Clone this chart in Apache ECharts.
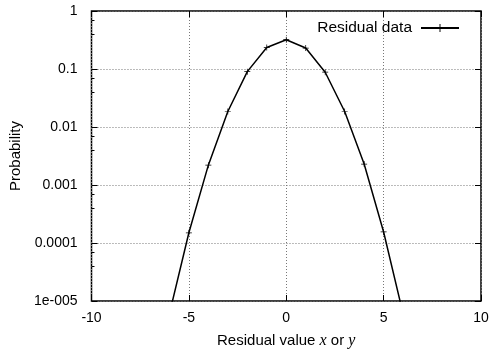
<!DOCTYPE html>
<html>
<head>
<meta charset="utf-8">
<script src="https://cdn.jsdelivr.net/npm/echarts@6/dist/echarts.min.js"></script>
<style>
  html, body { margin: 0; padding: 0; background: #fff; }
  #chart { width: 497px; height: 354px; }
</style>
</head>
<body>
<div id="chart"></div>
<script>
// residual values and their probabilities
const xs = [-6, -5, -4, -3, -2, -1, 0, 1, 2, 3, 4, 5, 6];
const probs = [6e-6, 1.5e-4, 2.2e-3, 0.0185, 0.09, 0.235, 0.32, 0.23, 0.088, 0.0185, 0.0023, 1.55e-4, 6e-6];
const yLabels = { 1: "1", 0.1: "0.1", 0.01: "0.01", 0.001: "0.001", 0.0001: "0.0001", 0.00001: "1e-005" };

const font = "'Liberation Sans', Arial, sans-serif";
const plus = "path://M-0.6,-5H0.6V-0.6H5V0.6H0.6V5H-0.6V0.6H-5V-0.6H-0.6Z";
const dotted = { color: "#777", type: [1, 2], width: 1 };
const tick = { inside: true, length: 6, lineStyle: { color: "#000" } };

const chart = echarts.init(document.getElementById("chart"), null, { renderer: "canvas" });

chart.setOption({
  animation: false,
  grid: {
    left: 88, right: 16, top: 11, bottom: 49,
    show: true, borderColor: "#000", borderWidth: 1.5, backgroundColor: "transparent"
  },
  legend: {
    right: 32, top: 15,
    align: "right",
    itemWidth: 38, itemHeight: 10, itemGap: 10,
    textStyle: { fontFamily: font, fontSize: 15.5, color: "#000", padding: [0, 4, 0, 0] },
    data: [{ name: "Residual data" }]
  },
  xAxis: [{
    type: "value",
    min: -10, max: 10, interval: 5,
    name: "Residual value {i|x} or {i|y}",
    nameLocation: "middle",
    nameGap: 32,
    nameTextStyle: {
      fontFamily: font, fontSize: 15, color: "#000",
      rich: { i: { fontFamily: "'Liberation Serif', serif", fontStyle: "italic", fontSize: 16, color: "#000" } }
    },
    axisLine: { show: false, onZero: false },
    axisTick: tick,
    axisLabel: { fontFamily: font, fontSize: 14, color: "#000", margin: 10 },
    splitLine: { show: true, lineStyle: dotted }
  }, {
    type: "value",
    position: "top",
    min: -10, max: 10, interval: 5,
    axisLine: { show: false, onZero: false },
    axisTick: tick,
    axisLabel: { show: false },
    splitLine: { show: false }
  }],
  yAxis: [{
    type: "log",
    logBase: 10,
    min: 1e-5, max: 1,
    name: "Probability",
    nameLocation: "middle",
    nameGap: 67,
    nameTextStyle: { fontFamily: font, fontSize: 15, color: "#000" },
    axisLine: { show: false, onZero: false },
    axisTick: tick,
    minorTick: { show: true, splitNumber: 3, length: 3, lineStyle: { color: "#000" } },
    axisLabel: {
      fontFamily: font, fontSize: 14, color: "#000", margin: 14,
      formatter: v => yLabels[+v.toPrecision(3)] ?? String(v)
    },
    splitLine: { show: true, lineStyle: dotted }
  }, {
    type: "log",
    logBase: 10,
    position: "right",
    min: 1e-5, max: 1,
    axisLine: { show: false, onZero: false },
    axisTick: tick,
    axisLabel: { show: false },
    splitLine: { show: false }
  }],
  series: [{
    name: "Residual data",
    type: "line",
    data: xs.map((x, i) => [x, probs[i]]),
    clip: true,
    symbol: plus,
    symbolSize: 6,
    showSymbol: true,
    itemStyle: { color: "#000" },
    lineStyle: { color: "#000", width: 1.5 }
  }]
});
</script>
</body>
</html>
